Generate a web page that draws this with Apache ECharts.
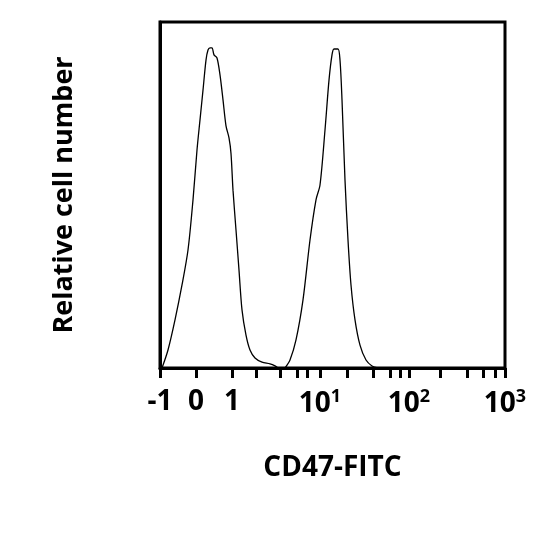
<!DOCTYPE html>
<html>
<head>
<meta charset="utf-8">
<script src="https://cdn.jsdelivr.net/npm/echarts@6/dist/echarts.min.js"></script>
<style>html,body{margin:0;padding:0;background:#fff}#main{width:540px;height:540px}</style>
</head>
<body>
<div id="main"></div>
<script>
// x positions are in display units of the biexponential axis (0 = -1, 345 = 10^3)
var tickPos = [0, 36, 72, 96, 120, 137, 147, 160, 187, 213, 230, 240, 249, 280, 307, 323, 335, 345];
var labelPos = [0, 36, 72, 160, 249, 345];
var labelText = ['-1', '0', '1', '10{s|1}', '10{s|2}', '10{s|3}'];

var peak1X = [2, 8, 15, 22, 28, 33, 37, 40, 43, 46, 48, 50, 52, 54, 57, 60, 63, 66, 69, 71, 73, 76, 79, 82, 86, 90, 95, 102, 110, 115, 118];
var peak1Y = [0, 5.2, 13.9, 24, 34.1, 48.6, 63, 71.7, 80.3, 89, 91.9, 92.5, 92.5, 90.5, 89.6, 84.7, 77.5, 70, 66.5, 62, 51.4, 39.9, 28.3, 16.8, 9.5, 5.2, 2.9, 1.7, 1.2, 0.6, 0];
var peak2X = [125, 130, 136, 143, 150, 156, 160, 165, 169, 172, 174, 178, 180, 182, 185, 188, 191, 195, 200, 206, 212, 218];
var peak2Y = [0, 2.3, 8.1, 19.7, 37, 48.6, 52.9, 68.8, 83.2, 90.5, 92.2, 92.2, 89, 77.5, 54.3, 37, 24, 13.9, 6.6, 2.3, 0.6, 0];

function pairs(xs, ys) {
    var out = [];
    for (var i = 0; i < xs.length; i++) out.push([xs[i], ys[i]]);
    return out;
}

var font = '"Open Sans", "DejaVu Sans", sans-serif';
var chart = echarts.init(document.getElementById('main'));
chart.setOption({
    animation: false,
    grid: {left: 160, top: 22, width: 345, height: 346, show: true, borderColor: '#000', borderWidth: 3},
    xAxis: {
        type: 'value', min: 0, max: 345,
        name: 'CD47-FITC', nameLocation: 'middle', nameGap: 86,
        nameTextStyle: {fontFamily: font, fontWeight: 'bold', fontSize: 28, color: '#000'},
        axisLine: {lineStyle: {color: '#000', width: 3}},
        axisTick: {customValues: tickPos, length: 10, lineStyle: {color: '#000', width: 3}},
        axisLabel: {
            customValues: labelPos, margin: 20,
            fontFamily: font, fontWeight: 'bold', fontSize: 28, color: '#000',
            formatter: function (v) { return labelText[labelPos.indexOf(v)]; },
            rich: {s: {fontFamily: font, fontWeight: 'bold', fontSize: 18, color: '#000', verticalAlign: 'top', padding: [0, 0, 14, 0]}}
        },
        splitLine: {show: false}
    },
    yAxis: {
        type: 'value', min: 0, max: 100,
        name: 'Relative cell number', nameLocation: 'middle', nameGap: 82,
        nameTextStyle: {fontFamily: font, fontWeight: 'bold', fontSize: 27, color: '#000'},
        axisLine: {show: true, lineStyle: {color: '#000', width: 3}},
        axisTick: {show: false},
        axisLabel: {show: false},
        splitLine: {show: false}
    },
    series: [
        {type: 'line', data: pairs(peak1X, peak1Y), showSymbol: false, smooth: 0.3, lineStyle: {color: '#000', width: 1.3}},
        {type: 'line', data: pairs(peak2X, peak2Y), showSymbol: false, smooth: 0.3, lineStyle: {color: '#000', width: 1.3}}
    ]
});
</script>
</body>
</html>
